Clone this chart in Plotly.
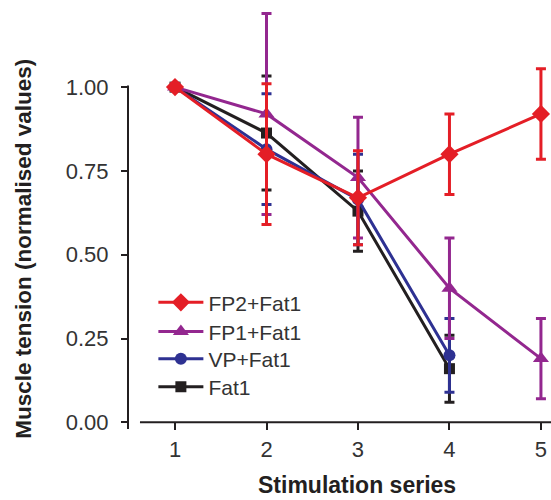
import plotly.graph_objects as go

series_x = [1, 2, 3, 4, 5]

fat1_y = [1.00, 0.863, 0.63, 0.16]
fat1_err = [0.01, 0.17, 0.12, 0.10]

vp_y = [1.00, 0.815, 0.665, 0.20]
vp_err = [0.01, 0.165, 0.135, 0.11]

fp1_y = [1.00, 0.92, 0.73, 0.40, 0.19]
fp1_err = [0.01, 0.30, 0.18, 0.15, 0.12]

fp2_y = [1.00, 0.80, 0.67, 0.80, 0.92]
fp2_err = [0.01, 0.21, 0.14, 0.12, 0.135]

y_ticks = [0.0, 0.25, 0.50, 0.75, 1.00]
y_ticktext = ["0.00", "0.25", "0.50", "0.75", "1.00"]

FONT = "Arial, 'Liberation Sans', Helvetica, sans-serif"
AX = "#231f20"

fig = go.Figure()

def add(name, ys, errs, color, symbol, size, legend):
    fig.add_trace(go.Scatter(
        x=series_x[:len(ys)], y=ys, name=name, mode="lines+markers",
        line=dict(color=color, width=3),
        marker=dict(symbol=symbol, size=size, color=color),
        error_y=dict(type="data", array=errs, visible=True, color=color,
                     thickness=3, width=5),
        cliponaxis=False, legend=legend,
    ))

add("Fat1", fat1_y, fat1_err, "#231f20", "square", 11, "legend4")
add("VP+Fat1", vp_y, vp_err, "#2e3192", "circle", 12, "legend3")
add("FP1+Fat1", fp1_y, fp1_err, "#93278f", "triangle-up", 14, "legend2")
add("FP2+Fat1", fp2_y, fp2_err, "#e41e26", "diamond", 14, "legend")

ymin, ymax = -0.02, 1.245
xmin, xmax = 0.486, 5.11

def leg(yfrac):
    return dict(x=0.06, y=yfrac, xanchor="left", yanchor="middle",
                font=dict(size=21, color="#333333"), bgcolor="rgba(0,0,0,0)",
                itemwidth=45)

fig.update_layout(
    width=551, height=500,
    margin=dict(l=128, r=0, t=5, b=71),
    paper_bgcolor="white", plot_bgcolor="white",
    font=dict(family=FONT, size=22, color="#333333"),
    showlegend=True,
    legend=leg(0.298), legend2=leg(0.229), legend3=leg(0.165), legend4=leg(0.099),
    xaxis=dict(range=[xmin, xmax], tickvals=series_x, ticks="outside", ticklen=7,
               tickwidth=2, tickcolor=AX, showline=False, showgrid=False, zeroline=False,
               anchor="free", position=(0 - ymin) / (ymax - ymin)),
    yaxis=dict(range=[ymin, ymax], tickvals=y_ticks, ticktext=y_ticktext, ticks="outside",
               ticklen=6, tickwidth=2, tickcolor=AX, showline=False, showgrid=False,
               zeroline=False, ticklabelstandoff=8),
    annotations=[
        dict(text="<b>Stimulation series</b>", xref="paper", yref="paper",
             x=0.541, y=-0.131, xanchor="center", yanchor="middle", showarrow=False,
             font=dict(size=23, color="#231f20")),
        dict(text="<b>Muscle tension (normalised values)</b>", xref="paper", yref="paper",
             x=(24 - 128) / 423, y=0.425, xanchor="center", yanchor="middle",
             textangle=-90, showarrow=False, font=dict(size=22.5, color="#231f20")),
    ],
    shapes=[
        dict(type="line", xref="paper", yref="y", x0=0, x1=0, y0=ymin, y1=1.005,
             line=dict(color=AX, width=2)),
        dict(type="line", xref="x", yref="y", x0=0.617, x1=xmax, y0=0, y1=0,
             line=dict(color=AX, width=2)),
    ],
)

fig.write_html("out.html")
